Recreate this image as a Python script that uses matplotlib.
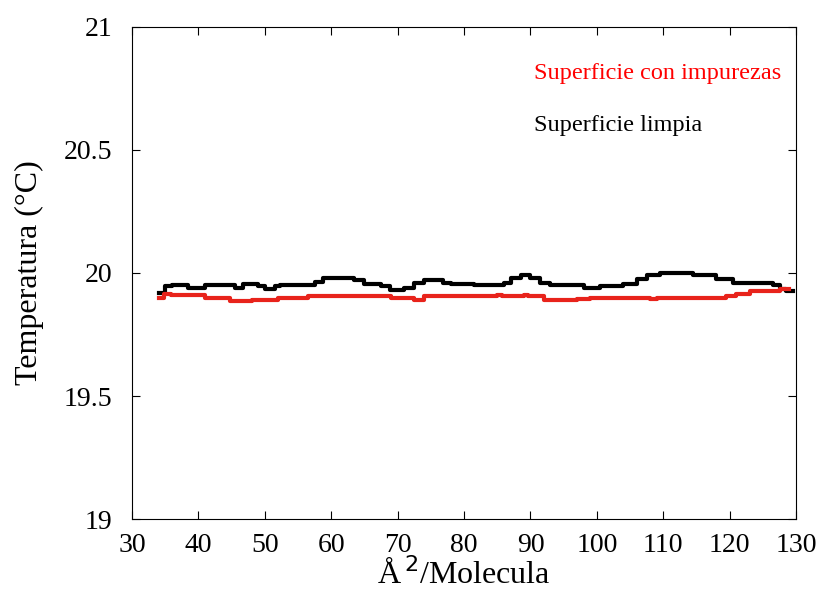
import numpy as np
import matplotlib
matplotlib.use("Agg")
import matplotlib.pyplot as plt

plt.rcParams["font.family"] = ["Liberation Serif", "DejaVu Serif"]

# Area per molecule (Å^2) and temperature readings (°C)
# (each x is where a new step of the recorded trace begins)
x_limpia = [34, 35, 36, 38.5, 41, 45.5, 46.7, 49, 50, 51.5, 52.3, 57.5, 58.8, 63.5,
            65, 67.5, 68.8, 71, 72.5, 74, 76.8, 78, 81.5, 86, 87, 88.5, 90, 91.5,
            93, 98, 100.5, 104, 106, 107.5, 109.5, 114.5, 118, 120.5, 126.5, 127.5, 128.5, 129.5]
t_limpia = [19.92, 19.945, 19.95, 19.94, 19.95, 19.94, 19.955, 19.945, 19.935, 19.945, 19.95, 19.965, 19.98, 19.97,
            19.955, 19.945, 19.93, 19.94, 19.96, 19.97, 19.96, 19.955, 19.95, 19.96, 19.98, 19.99, 19.98, 19.96,
            19.95, 19.94, 19.945, 19.955, 19.975, 19.99, 20.0, 19.99, 19.975, 19.96, 19.95, 19.935, 19.925, 19.925]

x_impurezas = [34, 34.8, 35.8, 41, 44.8, 48, 52, 56.5, 69, 72.5, 74, 85, 85.7, 89, 89.7,
               92, 97, 99, 108, 109, 119.5, 121, 123, 127.5, 129]
t_impurezas = [19.9, 19.915, 19.91, 19.9, 19.885, 19.89, 19.9, 19.905, 19.9, 19.89, 19.905, 19.91, 19.905, 19.91, 19.905,
               19.89, 19.895, 19.9, 19.895, 19.9, 19.905, 19.915, 19.925, 19.935, 19.935]

x_ticks = [30, 40, 50, 60, 70, 80, 90, 100, 110, 120, 130]
y_ticks = [19, 19.5, 20, 20.5, 21]
y_ticklabels = ["19", "19.5", "20", "20.5", "21"]

fig = plt.figure(figsize=(8.25, 5.94), dpi=100)
ax = fig.add_axes([0.16, 0.126, 0.805, 0.829])

ax.plot(x_limpia, t_limpia, drawstyle="steps-post", color="black", lw=3)
ax.plot(x_impurezas, t_impurezas, drawstyle="steps-post", color="#e8231b", lw=3)

ax.set_xlim(30, 130)
ax.set_ylim(19, 21)
ax.set_xticks(x_ticks)
ax.set_yticks(y_ticks)
ax.set_yticklabels(y_ticklabels)
ax.tick_params(direction="in", top=True, right=True, length=6, labelsize=20)
ax.tick_params(axis="y", pad=14)
ax.tick_params(axis="x", pad=10)

ax.set_xlabel("Å$^{\\,2}$/Molecula", fontsize=23, labelpad=0)
ax.set_ylabel("Temperatura (°C)", fontsize=23, labelpad=14)

ax.text(0.605, 0.905, "Superficie con impurezas", color="red", fontsize=17.5,
        transform=ax.transAxes, va="center")
ax.text(0.605, 0.8, "Superficie limpia", color="black", fontsize=17.5,
        transform=ax.transAxes, va="center")

fig.savefig("out.png", dpi=100)
